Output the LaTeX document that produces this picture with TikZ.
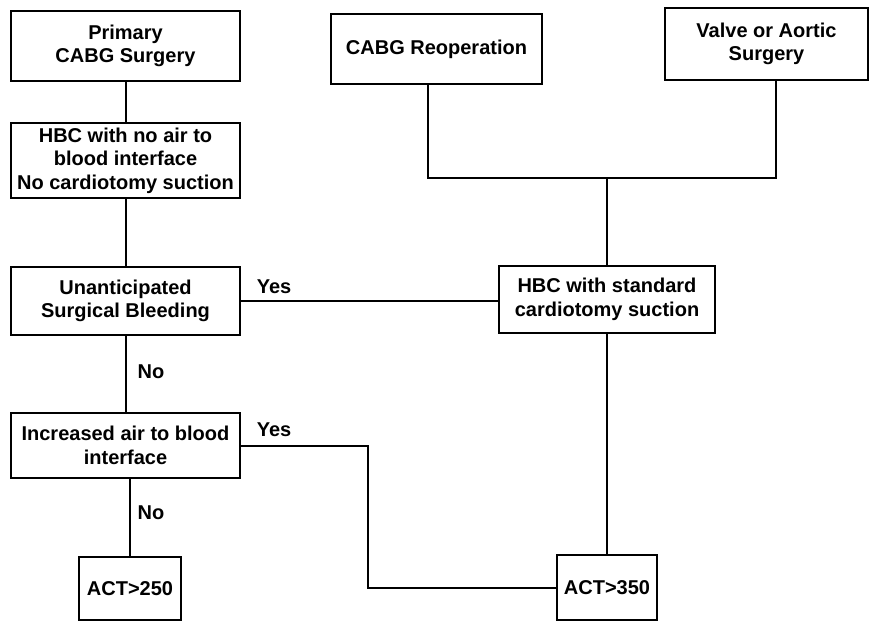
\documentclass[tikz,border=0pt]{standalone}
\usepackage{fontspec}
\setmainfont{Liberation Sans}
\begin{document}
\begin{tikzpicture}[x=1pt,y=-1pt,
  box/.style={draw, line width=2.4pt, align=center, font=\bfseries\fontsize{20}{23.5}\selectfont, inner sep=0pt},
  conn/.style={line width=2pt},
  lbl/.style={font=\bfseries\fontsize{20}{23.5}\selectfont, inner sep=0pt}]
\useasboundingbox (0,0) rectangle (870,622);
\node[box, minimum width=229pt, minimum height=70pt] (b1) at (125.5,46) {Primary\\CABG Surgery};
\node[box, minimum width=229pt, minimum height=75pt] (b2) at (125.5,160.5) {HBC with no air to\\blood interface\\No cardiotomy suction};
\node[box, minimum width=229pt, minimum height=68pt] (b3) at (125.5,301) {Unanticipated\\Surgical Bleeding};
\node[box, minimum width=229pt, minimum height=65pt] (b4) at (125.5,445.5) {Increased air to blood\\interface};
\node[box, minimum width=102pt, minimum height=63pt] (b5) at (130,588.5) {ACT>250};
\node[box, minimum width=211pt, minimum height=70pt] (b6) at (436.5,49) {CABG Reoperation};
\node[box, minimum width=203pt, minimum height=72pt] (b7) at (766.5,44) {Valve or Aortic\\Surgery};
\node[box, minimum width=216pt, minimum height=67pt] (b8) at (607,299.5) {HBC with standard\\cardiotomy suction};
\node[box, minimum width=100pt, minimum height=65pt] (b9) at (607,587.5) {ACT>350};
\coordinate (j) at (607,178);
\coordinate (k) at (368,520);
\draw[conn] (b1.south) -- (b2.north);
\draw[conn] (b2.south) -- (b3.north);
\draw[conn] (b3.south) -- (b4.north);
\draw[conn] (b4.south -| b5.north) -- (b5.north);
\draw[conn] ([xshift=-8.5pt]b6.south) |- (j) -| ([xshift=9.5pt]b7.south);
\draw[conn] (j) -- (b8.north);
\draw[conn] (b3.east) -- (b3.east -| b8.west);
\draw[conn] (b4.east) -| (k) |- (b9.west);
\draw[conn] (b8.south) -- (b9.north);
\node[lbl] (y1) at (274,287) {Yes};
\node[lbl] (y2) at (274,430) {Yes};
\node[lbl] (n1) at (151,372) {No};
\node[lbl] (n2) at (151,513) {No};
\end{tikzpicture}
\end{document}
